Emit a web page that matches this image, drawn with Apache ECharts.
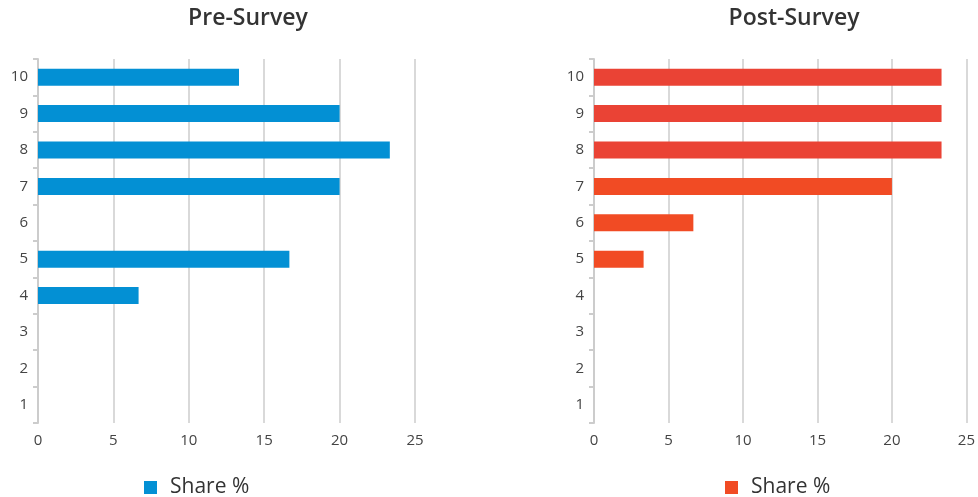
<!DOCTYPE html>
<html><head><meta charset="utf-8">
<script src="https://cdn.jsdelivr.net/npm/echarts@6/dist/echarts.min.js"></script>
<style>html,body{margin:0;padding:0;background:#fff}#c{width:978px;height:497px}</style>
</head><body><div id="c"></div>
<script>
const categories = ['1','2','3','4','5','6','7','8','9','10'];
const preValues  = [0, 0, 0, 6.67, 16.67, 0, 20, 23.33, 20, 13.33];
const postValues = [0, 0, 0, 0, 3.33, 6.67, 20, 23.33, 23.33, 23.33];
const xTicks = [0, 5, 10, 15, 20, 25];
const titles = ['Pre-Survey', 'Post-Survey'];
const seriesName = 'Share %';

const FONT = '"Open Sans"';
const preColor = '#0390D4';
const postTop = '#EA4335';
const postLow = '#F14B24';

function xAxis(gi){
  return {type:'value', gridIndex:gi, min:xTicks[0], max:xTicks[xTicks.length-1], interval:5,
    axisLine:{show:false}, axisTick:{show:false},
    axisLabel:{color:'#444', fontSize:15, fontFamily:FONT, margin:10},
    splitLine:{lineStyle:{color:'#d9d9d9', width:2}}};
}
function yAxis(gi){
  return {type:'category', gridIndex:gi, data:categories,
    axisLine:{lineStyle:{color:'#cccccc', width:2}},
    axisTick:{show:true, length:5, lineStyle:{color:'#cccccc', width:2}},
    axisLabel:{color:'#444', fontSize:15, fontFamily:FONT, margin:10},
    splitLine:{show:false}};
}
const legendText = {fontSize:21, color:'#333', fontFamily:FONT, padding:[0,0,0,8]};
const chart = echarts.init(document.getElementById('c'));
chart.setOption({
  animation:false,
  title:[
    {text:titles[0], left:243, top:2, textAlign:'center', textStyle:{fontSize:23, fontWeight:600, color:'#333', fontFamily:FONT}},
    {text:titles[1], left:789, top:2, textAlign:'center', textStyle:{fontSize:23, fontWeight:600, color:'#333', fontFamily:FONT}}
  ],
  legend:[
    {left:139, top:472, icon:'rect', itemWidth:13, itemHeight:13, itemGap:13,
     textStyle:legendText,
     data:[{name:seriesName, itemStyle:{color:preColor}}]},
    {left:720, top:472, icon:'rect', itemWidth:13, itemHeight:13, itemGap:13,
     textStyle:legendText,
     data:[{name:seriesName, itemStyle:{color:postLow}}]}
  ],
  grid:[
    {left:38, right:563, top:59, bottom:74},
    {left:594, right:9, top:59, bottom:74}
  ],
  xAxis:[xAxis(0), xAxis(1)],
  yAxis:[yAxis(0), yAxis(1)],
  series:[
    {name:seriesName, type:'bar', xAxisIndex:0, yAxisIndex:0, data:preValues, barWidth:17,
     itemStyle:{color:preColor}},
    {name:seriesName, type:'bar', xAxisIndex:1, yAxisIndex:1, barWidth:17,
     data:postValues.map((v,i)=>({value:v, itemStyle:{color: i>=7 ? postTop : postLow}})),
     itemStyle:{color:postLow}}
  ]
});
</script></body></html>
